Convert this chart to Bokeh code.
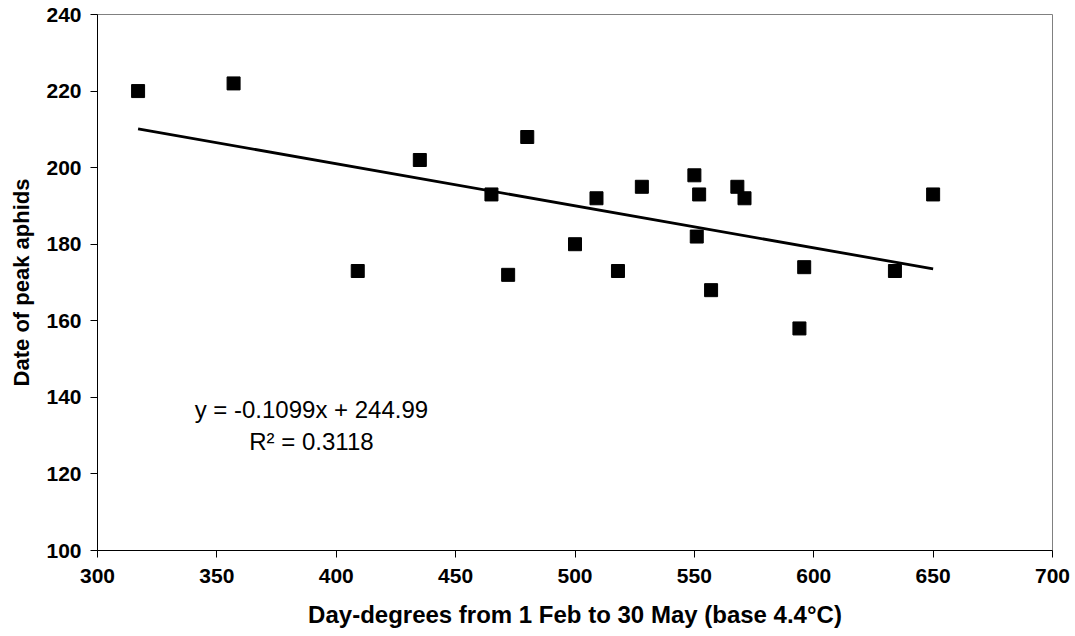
from bokeh.plotting import figure
from bokeh.models import Range1d, Label, FixedTicker
from bokeh.embed import file_html
from bokeh.resources import INLINE

day_degrees = [317, 357, 409, 435, 465, 472, 480, 500, 509, 518, 528,
               550, 551, 552, 557, 568, 571, 594, 596, 634, 650]
peak_date = [220, 222, 173, 202, 193, 172, 208, 180, 192, 173, 195,
             198, 182, 193, 168, 195, 192, 158, 174, 173, 193]
trend_slope = -0.1099
trend_intercept = 244.99
r_squared = 0.3118
x_ticks = [300, 350, 400, 450, 500, 550, 600, 650, 700]
y_ticks = [100, 120, 140, 160, 180, 200, 220, 240]

FONT = "Liberation Sans"

p = figure(width=1075, height=636, output_backend="svg", toolbar_location=None,
           x_range=Range1d(300, 700), y_range=Range1d(100, 240),
           min_border_left=97, min_border_right=23, min_border_top=14, min_border_bottom=86)
p.frame_width = 955
p.frame_height = 536
p.background_fill_color = "white"
p.border_fill_color = "white"
p.outline_line_color = "#808080"
p.outline_line_width = 1
p.grid.visible = False

# trend line
tx = [min(day_degrees), max(day_degrees)]
ty = [trend_slope * v + trend_intercept for v in tx]
p.line(tx, ty, line_color="black", line_width=2.8)

p.scatter(day_degrees, peak_date, marker="square", size=13,
          fill_color="black", line_color="black")

for ax in (p.xaxis[0], p.yaxis[0]):
    ax.axis_line_color = "black"
    ax.axis_line_width = 1
    ax.major_tick_line_color = "black"
    ax.major_tick_out = 7
    ax.major_tick_in = 0
    ax.minor_tick_line_color = None
    ax.major_label_text_font = FONT
    ax.major_label_text_font_style = "bold"
    ax.major_label_text_font_size = "21px"
    ax.major_label_text_color = "black"
    ax.axis_label_text_font = FONT
    ax.axis_label_text_font_style = "bold"
    ax.axis_label_text_color = "black"

p.xaxis.ticker = FixedTicker(ticks=x_ticks)
p.yaxis.ticker = FixedTicker(ticks=y_ticks)
p.xaxis.axis_label = "Day-degrees from 1 Feb to 30 May (base 4.4°C)"
p.yaxis.axis_label = "Date of peak aphids"
p.xaxis.axis_label_text_font_size = "24px"
p.yaxis.axis_label_text_font_size = "22px"
p.xaxis.major_label_standoff = 11
p.yaxis.major_label_standoff = 9
p.xaxis.axis_label_standoff = 15
p.yaxis.axis_label_standoff = 9

eq1 = Label(x=389.6, y=136.9, text=f"y = {trend_slope}x + {trend_intercept}",
            text_font=FONT, text_font_size="24px", text_align="center",
            text_baseline="middle", text_color="black")
eq2 = Label(x=389.6, y=128.5, text=f"R² = {r_squared}",
            text_font=FONT, text_font_size="24px", text_align="center",
            text_baseline="middle", text_color="black")
p.add_layout(eq1)
p.add_layout(eq2)

open("out.html", "w").write(file_html(p, INLINE))
